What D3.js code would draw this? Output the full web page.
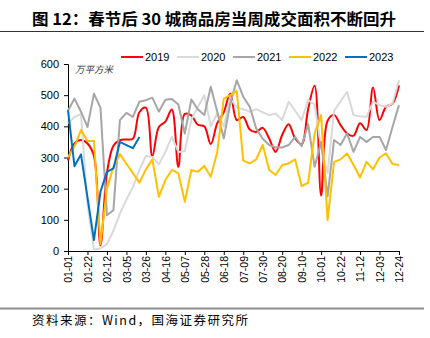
<!DOCTYPE html>
<html>
<head>
<meta charset="utf-8">
<script src="https://cdn.jsdelivr.net/npm/d3@7"></script>
<style>
  body { margin: 0; background: #fff; }
  svg text { font-family: "Liberation Sans", Arial, sans-serif; }
  .cjk { font-family: "Noto Sans CJK SC", sans-serif; }
</style>
</head>
<body>
<div id="chart"></div>
<script>
var weeks = ["01-01","01-08","01-15","01-22","01-29","02-05","02-12","02-19","02-26","03-05",
             "03-12","03-19","03-26","04-02","04-09","04-16","04-23","04-30","05-07","05-14",
             "05-21","05-28","06-04","06-11","06-18","06-25","07-02","07-09","07-16","07-23",
             "07-30","08-06","08-13","08-20","08-27","09-03","09-10","09-17","09-24","10-01",
             "10-08","10-15","10-22","10-29","11-05","11-12","11-19","11-26","12-03","12-10",
             "12-17","12-24"];
var tickWeeks = ["01-01","01-22","02-12","03-05","03-26","04-16","05-07","05-28","06-18","07-09",
                 "07-30","08-20","09-10","10-01","10-22","11-12","12-03","12-24"];
var yTicks = [0, 100, 200, 300, 400, 500, 600];

// 万平方米, weekly
var s2019 = [290,345,356,345,305,18,250,338,356,358,360,445,460,304,398,415,454,270,440,435,
             405,400,343,410,445,505,420,430,390,382,395,361,318,372,407,361,343,455,530,178,
             418,436,404,377,370,410,388,525,420,463,473,532];
var s2020 = [410,430,440,150,5,8,22,65,120,165,205,260,305,302,278,318,366,318,320,420,
             462,500,400,441,400,490,460,455,447,455,445,436,441,420,479,450,420,484,470,330,
             250,450,480,511,436,432,430,479,468,463,473,548];
var s2021 = [450,489,447,398,505,460,115,131,420,443,430,479,484,492,447,485,488,470,377,486,
             455,436,527,447,361,473,548,495,463,393,360,340,332,332,340,366,336,407,270,350,
             175,356,340,377,318,366,350,366,366,324,398,468];
var s2022 = [300,335,388,353,353,22,200,270,311,280,250,219,262,294,174,228,260,249,158,260,
             254,273,238,318,489,500,514,290,281,294,340,260,244,276,281,294,208,219,377,436,
             99,286,294,313,276,236,286,262,300,313,279,276];
var s2023 = [452,272,310,172,35,190,254,265,350,340,330,366];

var seriesNames = ["2019","2020","2021","2022","2023"];
var seriesColors = ["#ff0000","#d9d9d9","#a6a6a6","#ffc000","#0070c0"];
var seriesData = [s2019, s2020, s2021, s2022, s2023];

var svg = d3.select("#chart").append("svg")
    .attr("width", 430)
    .attr("height", 338);

// title + rules
svg.append("text").attr("class", "cjk")
    .attr("x", 32).attr("y", 25)
    .attr("font-size", "16px").attr("font-weight", "bold")
    .attr("textLength", 364).attr("lengthAdjust", "spacingAndGlyphs")
    .text("图 12：春节后 30 城商品房当周成交面积不断回升");
svg.append("line")
    .attr("x1", 0).attr("x2", 424).attr("y1", 31.5).attr("y2", 31.5)
    .attr("stroke", "#333").attr("stroke-width", 1);
svg.append("line")
    .attr("x1", 0).attr("x2", 424).attr("y1", 308.5).attr("y2", 308.5)
    .attr("stroke", "#8c8c8c").attr("stroke-width", 2);
svg.append("text").attr("class", "cjk")
    .attr("x", 32).attr("y", 325)
    .attr("font-size", "12.5px")
    .attr("textLength", 216).attr("lengthAdjust", "spacing")
    .text("资料来源：Wind，国海证券研究所");

var x = d3.scalePoint()
    .domain(weeks)
    .range([68, 399]);
var y = d3.scaleLinear()
    .domain([0, 600])
    .range([251, 64]);

// axes
var yAxis = svg.append("g")
    .attr("transform", "translate(68,0)")
    .call(d3.axisLeft(y).tickValues(yTicks).tickSize(4).tickPadding(5));
yAxis.selectAll("text").attr("font-size", "11px").attr("fill", "#000")
    .style("font-family", "'Liberation Sans', Arial, sans-serif");
yAxis.selectAll("line, path").attr("stroke", "#000");

var xAxis = svg.append("g")
    .attr("transform", "translate(0,251)")
    .call(d3.axisBottom(x).tickValues(tickWeeks).tickSize(4).tickSizeOuter(0));
xAxis.selectAll("text")
    .attr("font-size", "10.5px").attr("fill", "#000")
    .style("font-family", "'Liberation Sans', Arial, sans-serif")
    .attr("transform", "rotate(-90)")
    .attr("text-anchor", "end")
    .attr("x", -5).attr("y", 0).attr("dy", "0.36em");
xAxis.selectAll("line, path").attr("stroke", "#000");

// unit
svg.append("text").attr("class", "cjk")
    .attr("x", 75).attr("y", 73)
    .attr("font-size", "9.5px").attr("font-style", "italic").attr("fill", "#333")
    .text("万平方米");

// lines
var linefun = d3.line()
    .x(function(d, i) { return x(weeks[i]); })
    .y(function(d) { return y(d); });
var smoothfun = d3.line()
    .x(function(d, i) { return x(weeks[i]); })
    .y(function(d) { return y(d); })
    .curve(d3.curveCatmullRom.alpha(0.5));

seriesData.forEach(function(s, k) {
    svg.append("path")
        .attr("d", k == 0 ? smoothfun(s) : linefun(s))
        .attr("fill", "none")
        .attr("stroke", seriesColors[k])
        .attr("stroke-width", 2)
        .attr("stroke-linejoin", "round");
});

// legend
var legendX = [121, 177, 233, 289, 345];
var legend = svg.selectAll(".legend")
    .data(seriesNames)
    .enter()
        .append("g").attr("class", "legend")
        .attr("transform", function(d, i) { return "translate(" + legendX[i] + ",57)"; });
legend.append("line")
    .attr("x1", 0).attr("x2", 22)
    .attr("stroke", function(d, i) { return seriesColors[i]; })
    .attr("stroke-width", 2);
legend.append("text")
    .attr("x", 24).attr("y", 4)
    .attr("font-size", "11px")
    .text(function(d) { return d; });
</script>
</body>
</html>
